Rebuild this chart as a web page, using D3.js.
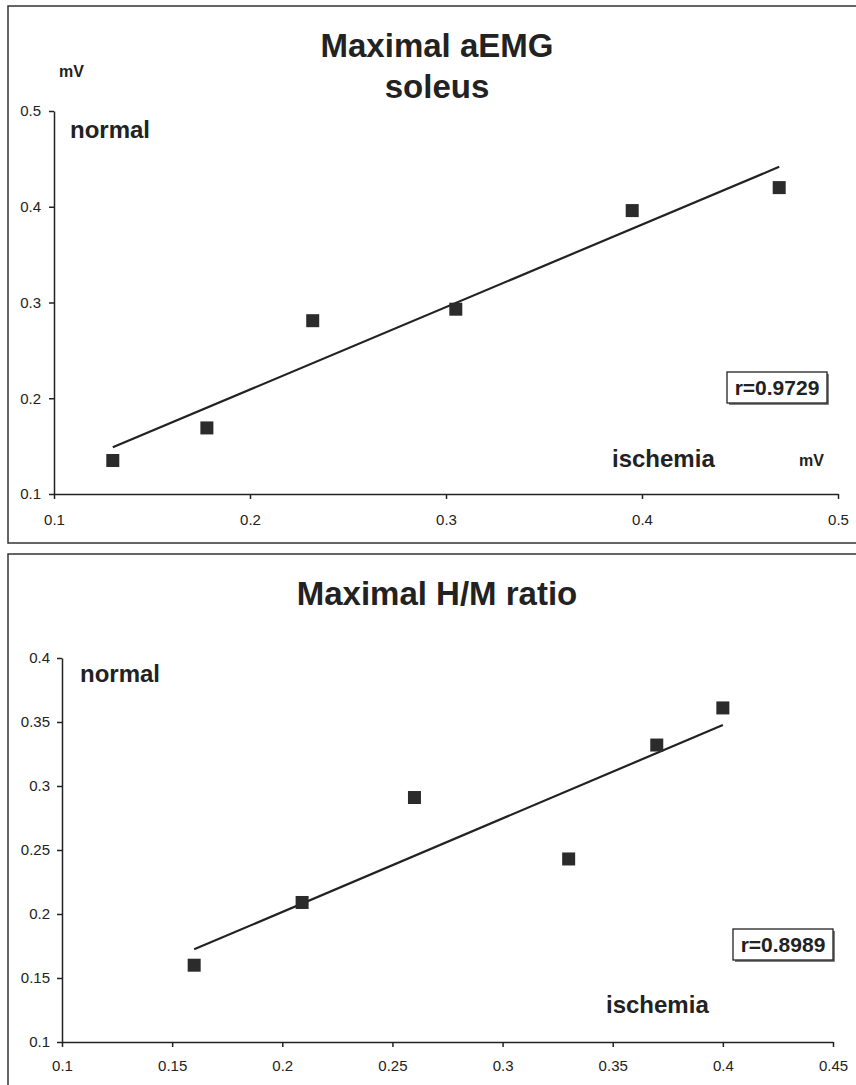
<!DOCTYPE html>
<html>
<head>
<meta charset="utf-8">
<script src="https://cdn.jsdelivr.net/npm/d3@7"></script>
<style>
  body { margin: 0; background: #fff; }
  svg { display: block; font-family: "Liberation Sans", Arial, sans-serif; }
</style>
</head>
<body>
<div id="chart"></div>
<script>
// DATA - top chart (aEMG soleus, mV)
var emgIschemia = [0.13, 0.178, 0.232, 0.305, 0.395, 0.47];
var emgNormal   = [0.135, 0.169, 0.281, 0.293, 0.396, 0.42];
var emgTicks    = [0.1, 0.2, 0.3, 0.4, 0.5];
var emgTickLabels = ["0.1", "0.2", "0.3", "0.4", "0.5"];

// DATA - bottom chart (H/M ratio)
var hmIschemia = [0.16, 0.209, 0.26, 0.33, 0.37, 0.40];
var hmNormal   = [0.16, 0.209, 0.291, 0.243, 0.332, 0.361];
var hmXTicks   = [0.1, 0.15, 0.2, 0.25, 0.3, 0.35, 0.4, 0.45];
var hmXTickLabels = ["0.1", "0.15", "0.2", "0.25", "0.3", "0.35", "0.4", "0.45"];
var hmYTicks   = [0.1, 0.15, 0.2, 0.25, 0.3, 0.35, 0.4];
var hmYTickLabels = ["0.1", "0.15", "0.2", "0.25", "0.3", "0.35", "0.4"];

var titles = [["Maximal aEMG", "soleus"], ["Maximal H/M ratio"]];
var rLabels = ["r=0.9729", "r=0.8989"];

var W = 856, H = 1085;
var ink = "#222";

var svg = d3.select("#chart").append("svg").attr("width", W).attr("height", H);

// least squares fit, returns endpoints at min/max x
function fitLine(xs, ys) {
  var mx = d3.mean(xs), my = d3.mean(ys);
  var sxy = d3.sum(xs, function(d, i) { return (d - mx) * (ys[i] - my); });
  var sxx = d3.sum(xs, function(d) { return (d - mx) * (d - mx); });
  var b = sxy / sxx, a = my - b * mx;
  var x0 = d3.min(xs), x1 = d3.max(xs);
  return [[x0, a + b * x0], [x1, a + b * x1]];
}

function drawPanel(p) {
  var g = svg.append("g");

  // panel frame (runs off the page on the open sides)
  g.append("rect")
    .attr("x", p.frame[0]).attr("y", p.frame[1])
    .attr("width", p.frame[2]).attr("height", p.frame[3])
    .attr("fill", "none").attr("stroke", "#333").attr("stroke-width", 1.5);

  var x = d3.scaleLinear().domain(p.xDomain).range(p.xRange);
  var y = d3.scaleLinear().domain(p.yDomain).range(p.yRange);

  // title
  g.append("text")
    .attr("x", p.titleX).attr("y", p.titleY)
    .attr("text-anchor", "middle")
    .style("font-size", "33px").style("font-weight", "bold").attr("fill", ink)
    .selectAll("tspan").data(p.title).enter().append("tspan")
    .attr("x", p.titleX)
    .attr("dy", function(d, i) { return i ? 41 : 0; })
    .text(function(d) { return d; });

  // axes
  var xAxis = d3.axisBottom(x).tickValues(p.xTicks)
    .tickFormat(function(d, i) { return p.xTickLabels[i]; })
    .tickSize(5).tickSizeOuter(0).tickPadding(p.xPad);
  var yAxis = d3.axisLeft(y).tickValues(p.yTicks)
    .tickFormat(function(d, i) { return p.yTickLabels[i]; })
    .tickSize(5).tickSizeOuter(0).tickPadding(p.yPad);

  var gx = g.append("g").attr("transform", "translate(0," + p.yRange[0] + ")").call(xAxis);
  var gy = g.append("g").attr("transform", "translate(" + p.xRange[0] + ",0)").call(yAxis);
  [gx, gy].forEach(function(a) {
    a.selectAll("path, line").attr("stroke", ink).attr("stroke-width", 1.5);
    a.selectAll("text").attr("fill", ink).style("font-size", "15px")
      .style("font-family", "'Liberation Sans', Arial, sans-serif");
  });

  // trend line
  var fit = fitLine(p.xs, p.ys);
  g.append("line")
    .attr("x1", x(fit[0][0])).attr("y1", y(fit[0][1]))
    .attr("x2", x(fit[1][0])).attr("y2", y(fit[1][1]))
    .attr("stroke", ink).attr("stroke-width", 2.2);

  // square markers
  var s = 13;
  g.selectAll("rect.pt").data(p.xs).enter().append("rect")
    .attr("class", "pt")
    .attr("x", function(d) { return x(d) - s / 2; })
    .attr("y", function(d, i) { return y(p.ys[i]) - s / 2; })
    .attr("width", s).attr("height", s)
    .attr("fill", "#2b2b2b");

  // text labels
  function label(txt, lx, ly, size) {
    g.append("text").attr("x", lx).attr("y", ly)
      .style("font-size", size + "px").style("font-weight", "bold")
      .attr("fill", ink).text(txt);
  }
  label("normal", p.normalPos[0], p.normalPos[1], 24);
  label("ischemia", p.ischPos[0], p.ischPos[1], 24);
  p.units.forEach(function(u) { label("mV", u[0], u[1], 16); });

  // r box with a little shadow
  var b = p.rBox;
  g.append("path")
    .attr("d", "M" + (b[0] + 2) + "," + (b[1] + b[3] + 1) + "H" + (b[0] + b[2] + 1) + "V" + (b[1] + 2))
    .attr("fill", "none").attr("stroke", "#555").attr("stroke-width", 1.5);
  g.append("rect")
    .attr("x", b[0]).attr("y", b[1]).attr("width", b[2]).attr("height", b[3])
    .attr("fill", "#fff").attr("stroke", ink).attr("stroke-width", 1.3);
  g.append("text")
    .attr("x", b[0] + b[2] / 2).attr("y", b[1] + 23)
    .attr("text-anchor", "middle")
    .style("font-size", "21px").style("font-weight", "bold")
    .attr("fill", ink).text(p.rLabel);
}

drawPanel({
  frame: [8, 6, 870, 537],
  xDomain: [0.1, 0.5], xRange: [54, 838],
  yDomain: [0.1, 0.5], yRange: [494, 111],
  xTicks: emgTicks, xTickLabels: emgTickLabels,
  yTicks: emgTicks, yTickLabels: emgTickLabels,
  xPad: 15, yPad: 8,
  xs: emgIschemia, ys: emgNormal,
  title: titles[0], titleX: 437, titleY: 57,
  normalPos: [70, 138], ischPos: [612, 467],
  units: [[59, 77], [799, 466]],
  rBox: [727, 372, 100, 31], rLabel: rLabels[0]
});

drawPanel({
  frame: [8, 554, 870, 560],
  xDomain: [0.1, 0.45], xRange: [62, 833],
  yDomain: [0.1, 0.4], yRange: [1042, 658],
  xTicks: hmXTicks, xTickLabels: hmXTickLabels,
  yTicks: hmYTicks, yTickLabels: hmYTickLabels,
  xPad: 13, yPad: 7,
  xs: hmIschemia, ys: hmNormal,
  title: titles[1], titleX: 437, titleY: 605,
  normalPos: [80, 682], ischPos: [606, 1013],
  units: [],
  rBox: [733, 929, 100, 31], rLabel: rLabels[1]
});
</script>
</body>
</html>
